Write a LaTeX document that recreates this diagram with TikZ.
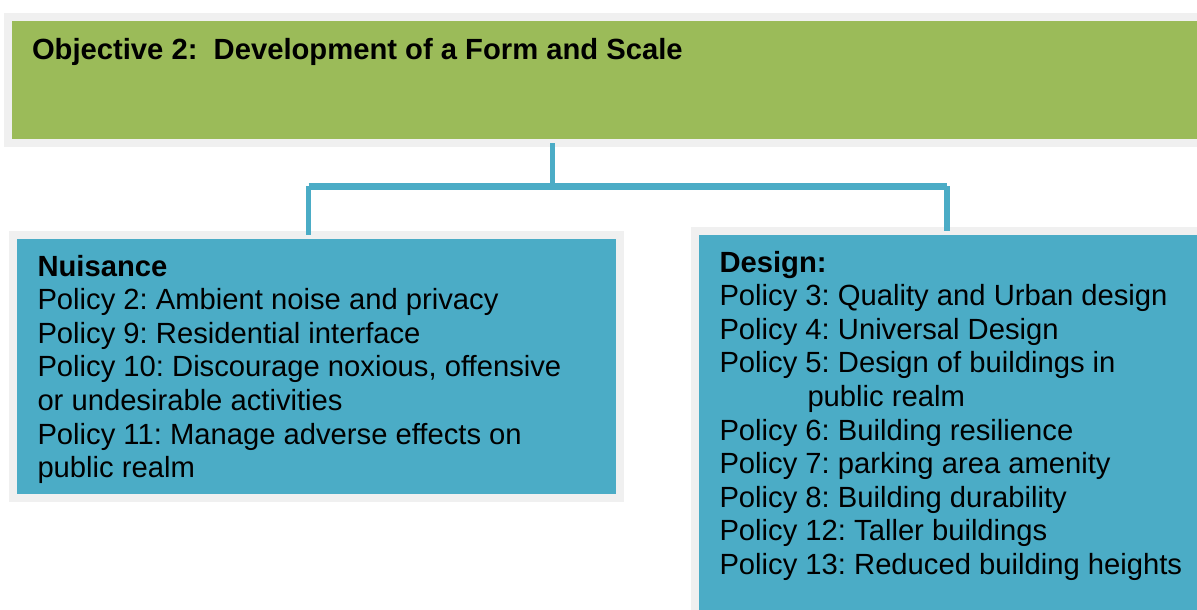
\documentclass[tikz,border=0pt]{standalone}
\usepackage{fontspec}
\setmainfont{Liberation Sans}
\frenchspacing
\definecolor{objgreen}{HTML}{9BBB59}
\definecolor{polblue}{HTML}{4BACC6}
\definecolor{framegray}{HTML}{F0F0F0}
\begin{document}
\begin{tikzpicture}[x=1pt,y=-1pt,
  framed/.style={draw=framegray, line width=8pt, anchor=north west, outer sep=0pt, inner sep=0pt},
  greenbox/.style={framed, fill=objgreen},
  bluebox/.style={framed, fill=polblue},
  txt/.style={anchor=north west, inner sep=0pt, outer sep=0pt, align=left, text=black,
    font=\fontsize{29.2}{33.6}\selectfont\frenchspacing},
  stem/.style={draw=polblue, line width=5.5pt},
  bar/.style={draw=polblue, line width=7pt}]
\useasboundingbox (0,0) rectangle (1197,610);
\clip (0,0) rectangle (1197,610);
\fill[white] (0,0) rectangle (1197,610);
% boxes
\node[greenbox, minimum width=1200pt, minimum height=126pt] (objective) at (8,17) {};
\node[bluebox, minimum width=607pt, minimum height=263pt] (nuisance) at (13,235) {};
\node[bluebox, minimum width=520pt, minimum height=420pt] (design) at (695,231) {};
% texts
\node[txt] (objtext) at ([shift={(24,21.5)}]objective.north west)
  {\bfseries Objective 2:\ \ Development of a Form and Scale};
\node[txt] (nuistext) at ([shift={(24.5,20)}]nuisance.north west)
  {\textbf{Nuisance}\\
   Policy 2: Ambient noise and privacy\\
   Policy 9: Residential interface\\
   Policy 10: Discourage noxious, offensive\\
   or undesirable activities\\
   Policy 11: Manage adverse effects on\\
   public realm};
\node[txt] (destext) at ([shift={(24.5,20)}]design.north west)
  {\textbf{Design:}\\
   Policy 3: Quality and Urban design\\
   Policy 4: Universal Design\\
   Policy 5: Design of buildings in\\
   \hspace*{88pt}public realm\\
   Policy 6: Building resilience\\
   Policy 7: parking area amenity\\
   Policy 8: Building durability\\
   Policy 12: Taller buildings\\
   Policy 13: Reduced building heights};
% connectors
\coordinate (split) at (552.5,186);
\coordinate (ljoin) at (308.5,186);
\coordinate (rjoin) at (947,186);
\draw[stem] (objective.south -| split) -- (split);
\draw[bar] (ljoin) -- (rjoin);
\draw[stem] (ljoin) -- (ljoin |- nuisance.north);
\draw[stem] (rjoin) -- (rjoin |- design.north);
\end{tikzpicture}
\end{document}
